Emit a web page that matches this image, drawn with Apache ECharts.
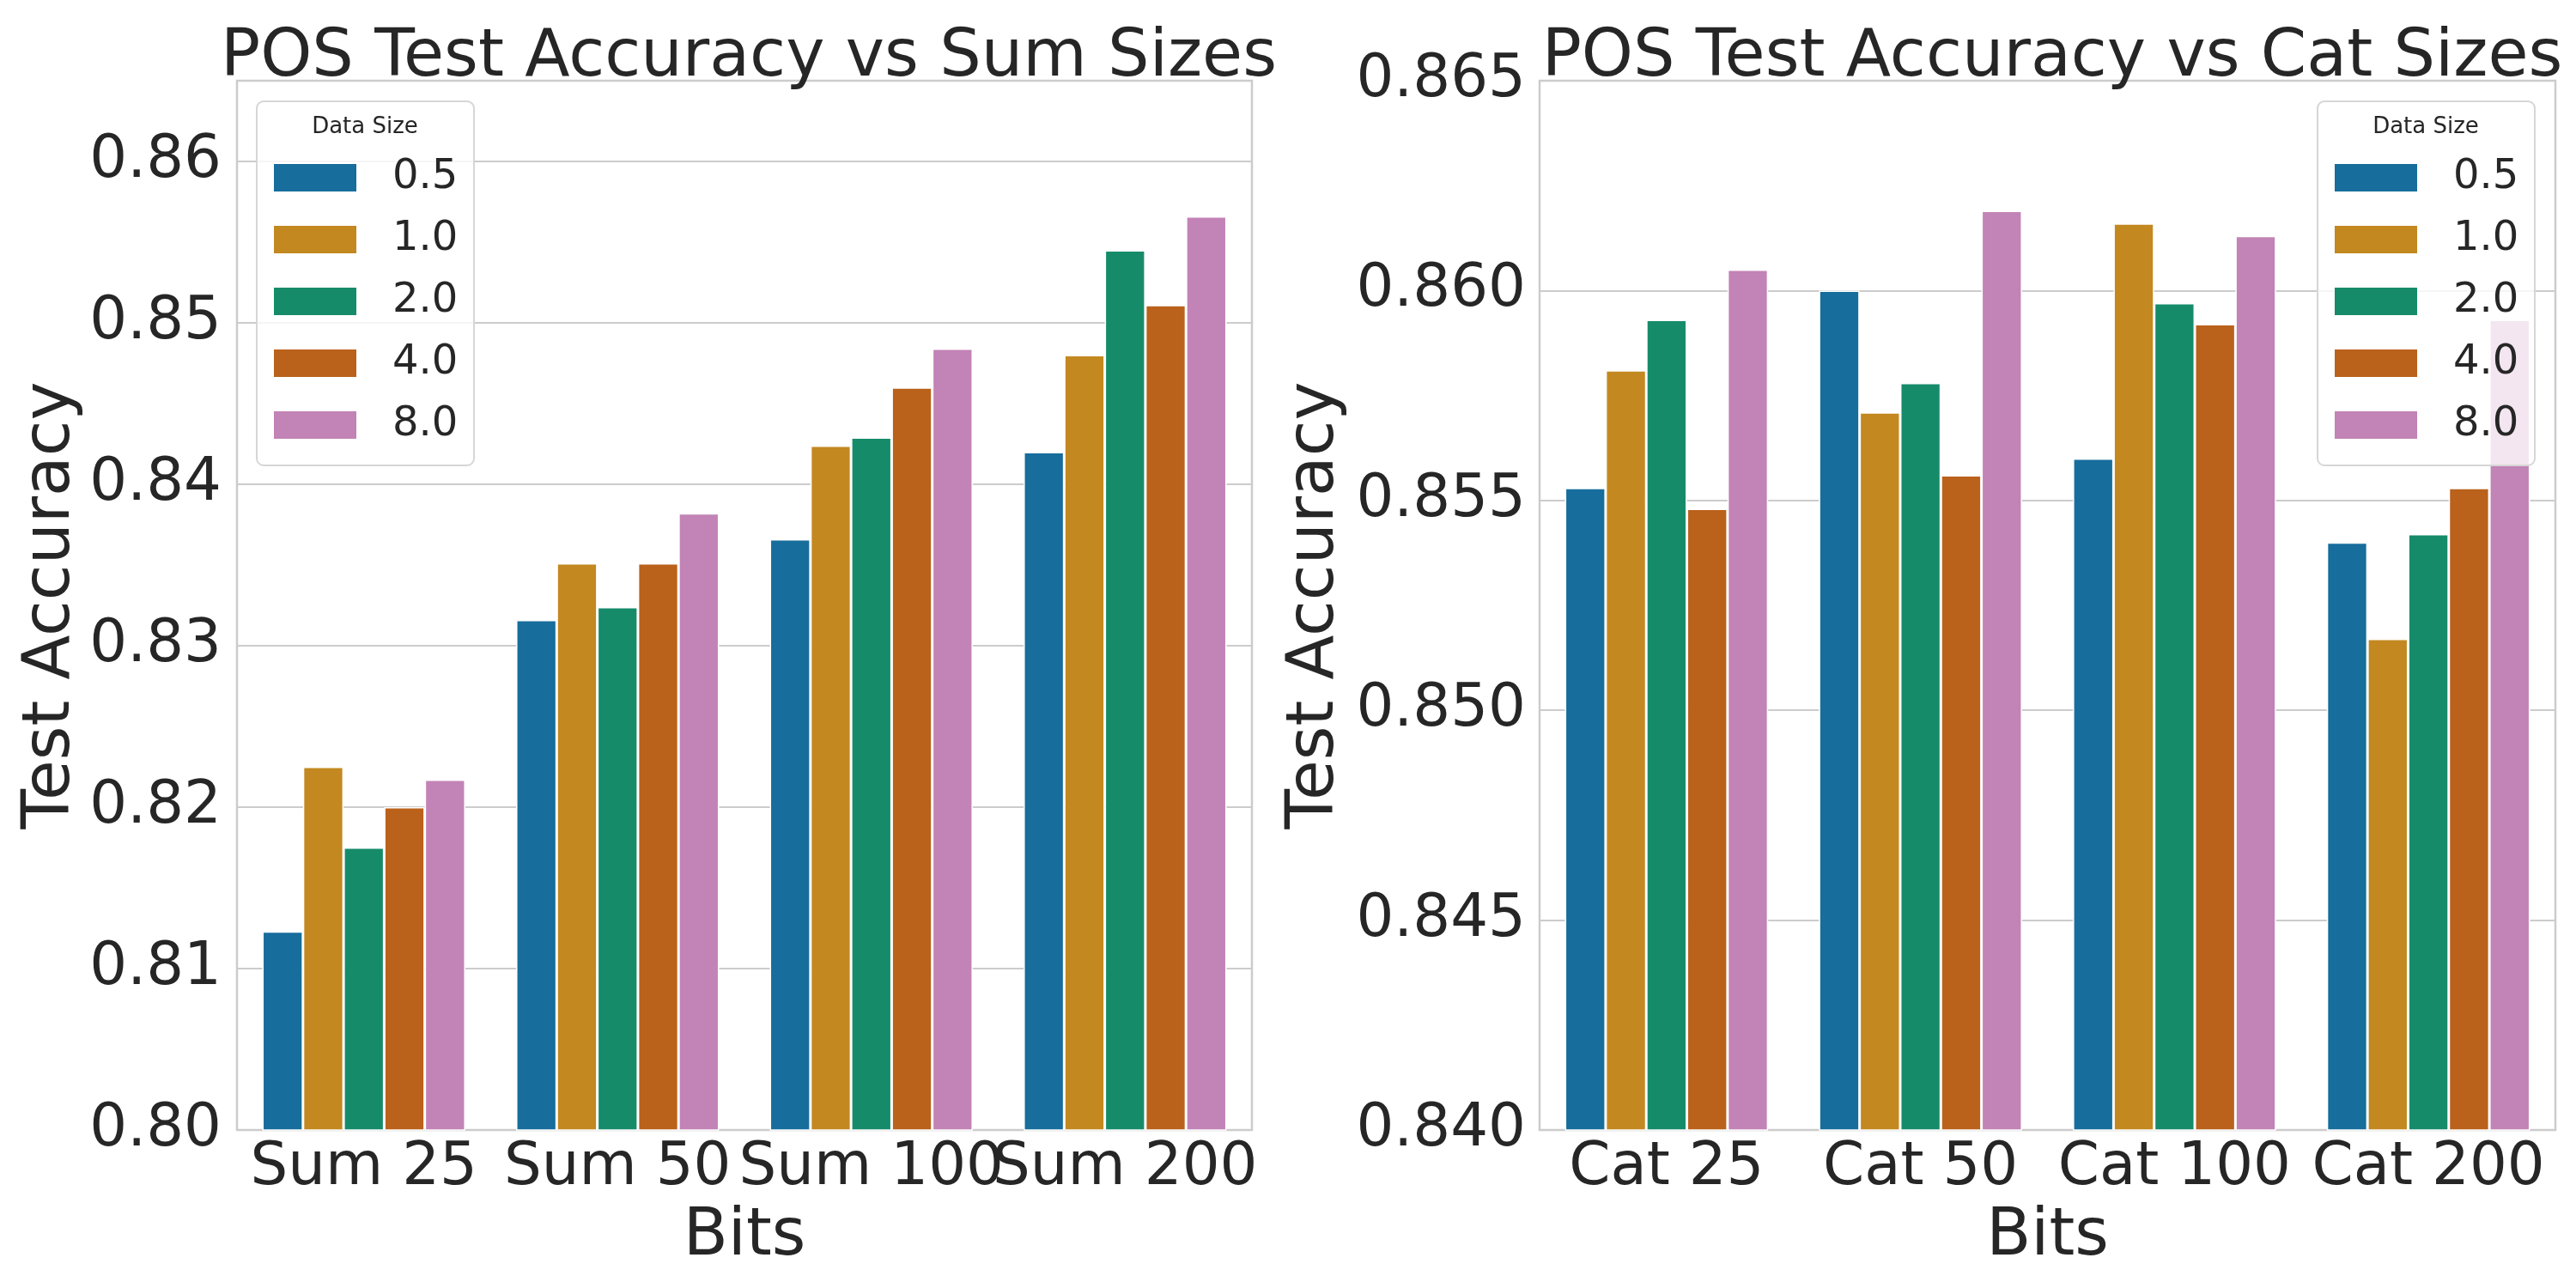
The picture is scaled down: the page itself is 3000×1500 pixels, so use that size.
<!DOCTYPE html>
<html>
<head>
<meta charset="utf-8">
<script src="https://cdn.jsdelivr.net/npm/echarts@6/dist/echarts.min.js"></script>
<style>
  html, body { margin: 0; padding: 0; background: #fff; }
  #chart { width: 3000px; height: 1500px; }
</style>
</head>
<body>
<div id="chart"></div>
<script>
// categories
var sumCats = ['Sum 25', 'Sum 50', 'Sum 100', 'Sum 200'];
var catCats = ['Cat 25', 'Cat 50', 'Cat 100', 'Cat 200'];
var sizes = ['0.5', '1.0', '2.0', '4.0', '8.0'];

// test accuracy, one array per data size
var sum05 = [0.8123, 0.8316, 0.8366, 0.8420];
var sum10 = [0.8225, 0.8351, 0.8424, 0.8480];
var sum20 = [0.8175, 0.8324, 0.8429, 0.8545];
var sum40 = [0.8200, 0.8351, 0.8460, 0.8511];
var sum80 = [0.8217, 0.8382, 0.8484, 0.8566];

var cat05 = [0.8553, 0.8600, 0.8560, 0.8540];
var cat10 = [0.8581, 0.8571, 0.8616, 0.8517];
var cat20 = [0.8593, 0.8578, 0.8597, 0.8542];
var cat40 = [0.8548, 0.8556, 0.8592, 0.8553];
var cat80 = [0.8605, 0.8619, 0.8613, 0.8593];

var sumData = [sum05, sum10, sum20, sum40, sum80];
var catData = [cat05, cat10, cat20, cat40, cat80];

// seaborn colorblind, desaturated
var colors = ['#176d9c', '#c38820', '#168b6a', '#ba611b', '#c283b6'];

var FONT = 'DejaVu Sans';
var INK = '#262626';
var GRIDC = '#cccccc';

var myChart = echarts.init(document.getElementById('chart'));

function makeSeries(data, idx) {
    return data.map(function (vals, i) {
        return {
            name: sizes[i],
            type: 'bar',
            xAxisIndex: idx,
            yAxisIndex: idx,
            data: vals,
            barGap: '0%',
            barCategoryGap: '20%',
            itemStyle: { color: colors[i], borderColor: '#ffffff', borderWidth: 1.5 }
        };
    });
}

function xAxisOf(cats, idx) {
    return {
        type: 'category',
        gridIndex: idx,
        data: cats,
        name: 'Bits',
        nameLocation: 'middle',
        nameGap: 87,
        nameTextStyle: { fontFamily: FONT, fontSize: 76, color: INK },
        axisLine: { show: false },
        axisTick: { show: false },
        axisLabel: { interval: 0, margin: 11, fontFamily: FONT, fontSize: 69, color: INK }
    };
}

function legendBox(x) {
    return [
        {
            type: 'rect', z: 3,
            shape: { x: x, y: 118, width: 253, height: 424, r: 8 },
            style: { fill: 'rgba(255,255,255,0.8)', stroke: '#d6d6d6', lineWidth: 2 }
        },
        {
            type: 'text', z: 5,
            x: x + 126, y: 148,
            style: { text: 'Data Size', fontFamily: FONT, fontSize: 26, fill: INK, align: 'center', verticalAlign: 'middle' }
        }
    ];
}

function legendOf(x) {
    return {
        orient: 'vertical',
        left: x + 20,
        top: 179,
        padding: 0,
        itemWidth: 96,
        itemHeight: 32,
        itemGap: 16,
        icon: 'rect',
        z: 4,
        itemStyle: { borderWidth: 0 },
        data: sizes,
        textStyle: { fontFamily: FONT, fontSize: 48, lineHeight: 56, color: INK, padding: [0, 0, 0, 37] }
    };
}

option = {
    backgroundColor: '#ffffff',
    animation: false,
    title: [
        {
            text: 'POS Test Accuracy vs Sum Sizes',
            left: 867, top: 25, textAlign: 'center',
            textStyle: { fontFamily: FONT, fontSize: 76.5, fontWeight: 'normal', color: INK }
        },
        {
            text: 'POS Test Accuracy vs Cat Sizes',
            left: 2385, top: 25, textAlign: 'center',
            textStyle: { fontFamily: FONT, fontSize: 76.5, fontWeight: 'normal', color: INK }
        }
    ],
    grid: [
        { left: 276, right: 1542, top: 94, bottom: 184, show: true, borderColor: GRIDC, borderWidth: 2.5, backgroundColor: 'transparent' },
        { left: 1793, right: 24, top: 94, bottom: 184, show: true, borderColor: GRIDC, borderWidth: 2.5, backgroundColor: 'transparent' }
    ],
    xAxis: [xAxisOf(sumCats, 0), xAxisOf(catCats, 1)],
    yAxis: [
        {
            type: 'value', gridIndex: 0,
            min: 0.80, max: 0.865, interval: 0.01,
            name: 'Test Accuracy', nameLocation: 'middle', nameGap: 178,
            nameTextStyle: { fontFamily: FONT, fontSize: 76, color: INK },
            axisLine: { show: false }, axisTick: { show: false },
            splitLine: { lineStyle: { color: GRIDC, width: 2 } },
            axisLabel: {
                margin: 18, fontFamily: FONT, fontSize: 69, color: INK, showMaxLabel: false,
                formatter: function (v) { return v.toFixed(2); }
            }
        },
        {
            type: 'value', gridIndex: 1,
            min: 0.840, max: 0.865, interval: 0.005,
            name: 'Test Accuracy', nameLocation: 'middle', nameGap: 223,
            nameTextStyle: { fontFamily: FONT, fontSize: 76, color: INK },
            axisLine: { show: false }, axisTick: { show: false },
            splitLine: { lineStyle: { color: GRIDC, width: 2 } },
            axisLabel: {
                margin: 16, fontFamily: FONT, fontSize: 69, color: INK,
                formatter: function (v) { return v.toFixed(3); }
            }
        }
    ],
    legend: [legendOf(299), legendOf(2699)],
    graphic: legendBox(299).concat(legendBox(2699)),
    series: makeSeries(sumData, 0).concat(makeSeries(catData, 1))
};

myChart.setOption(option);
</script>
</body>
</html>
